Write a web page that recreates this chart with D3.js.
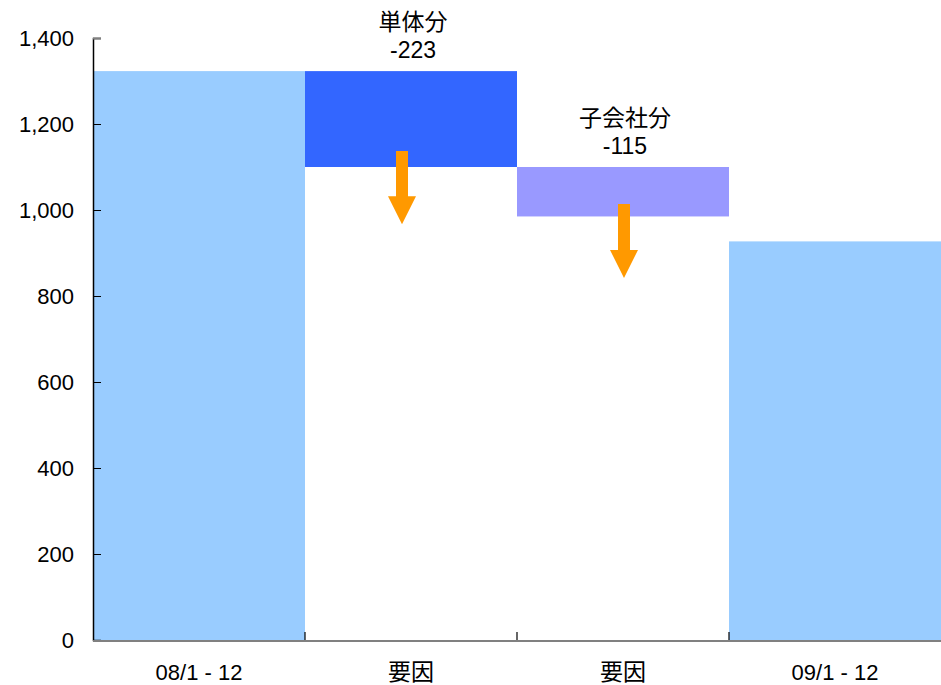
<!DOCTYPE html>
<html lang="ja">
<head>
<meta charset="utf-8">
<script src="https://cdn.jsdelivr.net/npm/d3@7"></script>
<style>
  html, body { margin: 0; padding: 0; background: #fff; }
  svg { display: block; }
  text { font-family: "Liberation Sans", Arial, "Noto Sans CJK JP", sans-serif; fill: #000; }
</style>
</head>
<body>
<svg id="chart" width="941" height="685"></svg>
<script>
// Waterfall: opening total, two decrease factors, closing total
const categories = ["08/1 - 12", "要因", "要因", "09/1 - 12"];
const barKinds = ["total", "delta", "delta", "total"];
const barValues = [1323, -223, -115, 927];
const deltaNames = [null, "単体分", "子会社分", null];
const barColors = ["#99CCFF", "#3366FF", "#9999FF", "#99CCFF"];
const yTicks = [0, 200, 400, 600, 800, 1000, 1200, 1400];
// decrease arrows, start and end in axis units
const arrowFrom = [null, 1137, 1014, null];
const arrowTo = [null, 967, 842, null];

const svg = d3.select("#chart");
const plot = { left: 93, right: 941, top: 38, bottom: 640 };

const x = d3.scaleBand().domain(d3.range(categories.length))
  .range([plot.left, plot.right]).padding(0);
const y = d3.scaleLinear().domain([0, 1400]).range([plot.bottom, plot.top]);

// running totals give each bar its low/high extent
let running = 0;
const bars = barValues.map((v, i) => {
  let lo, hi;
  if (barKinds[i] === "total") { lo = 0; hi = v; running = v; }
  else { const start = running; running = start + v; lo = Math.min(start, running); hi = Math.max(start, running); }
  return { i, v, lo, hi, kind: barKinds[i], color: barColors[i], name: deltaNames[i] };
});

svg.append("g").selectAll("rect").data(bars).join("rect")
  .attr("x", d => x(d.i))
  .attr("width", x.bandwidth())
  .attr("y", d => y(d.hi))
  .attr("height", d => y(d.lo) - y(d.hi))
  .attr("fill", d => d.color);

// orange down arrows on the decrease bars
const arrowG = svg.append("g");
bars.filter(d => arrowFrom[d.i] != null).forEach(d => {
  const cx = x(d.i) + x.bandwidth() / 2 + (d.i === 1 ? -9 : 1);
  const y0 = y(arrowFrom[d.i]), y1 = y(arrowTo[d.i]);
  const head = 28, shaftW = 6, headW = 14;
  const p = d3.path();
  p.moveTo(cx - shaftW, y0);
  p.lineTo(cx + shaftW, y0);
  p.lineTo(cx + shaftW, y1 - head);
  p.lineTo(cx + headW, y1 - head);
  p.lineTo(cx, y1);
  p.lineTo(cx - headW, y1 - head);
  p.lineTo(cx - shaftW, y1 - head);
  p.closePath();
  arrowG.append("path").attr("d", p.toString()).attr("fill", "#FF9900");
});

// labels above the decrease bars
const lab = svg.append("g").attr("text-anchor", "middle").style("font-size", "23px");
bars.filter(d => d.kind === "delta").forEach(d => {
  const cx = x(d.i) + x.bandwidth() / 2 + 2;
  const top = y(d.hi);
  lab.append("text").attr("x", cx).attr("y", top - 13).text(`${d.v}`);
  lab.append("text").attr("x", cx).attr("y", top - 41).text(d.name);
});

// y axis
const yAxis = d3.axisLeft(y).tickValues(yTicks).tickFormat(d3.format(",")).tickSize(-8).tickPadding(19);
const yg = svg.append("g").attr("transform", `translate(${plot.left},0)`).call(yAxis);
yg.select(".domain").attr("stroke", "#000").attr("stroke-width", 1.5);
yg.selectAll(".tick line").attr("stroke", "#000");
yg.selectAll(".tick").filter(d => d === 1400).select("line").attr("stroke", "#808080").attr("stroke-width", 2);
yg.selectAll(".tick text").style("font-size", "22px").attr("fill", "#000")
  .style("font-family", '"Liberation Sans", Arial, sans-serif');

// x axis: gray baseline with boundary ticks between categories
const xg = svg.append("g");
xg.append("line").attr("x1", plot.left).attr("x2", plot.right)
  .attr("y1", plot.bottom + 1).attr("y2", plot.bottom + 1)
  .attr("stroke", "#808080").attr("stroke-width", 2);
xg.selectAll("line.sep").data(d3.range(1, categories.length)).join("line")
  .attr("class", "sep")
  .attr("x1", d => x(d)).attr("x2", d => x(d))
  .attr("y1", plot.bottom - 8).attr("y2", plot.bottom)
  .attr("stroke", "#000").attr("stroke-width", 1.2);
xg.selectAll("text").data(categories).join("text")
  .attr("text-anchor", "middle")
  .attr("x", (d, i) => x(i) + x.bandwidth() / 2)
  .attr("y", 680)
  .style("font-size", d => /[0-9]/.test(d) ? "22px" : "23px")
  .text(d => d);
</script>
</body>
</html>
